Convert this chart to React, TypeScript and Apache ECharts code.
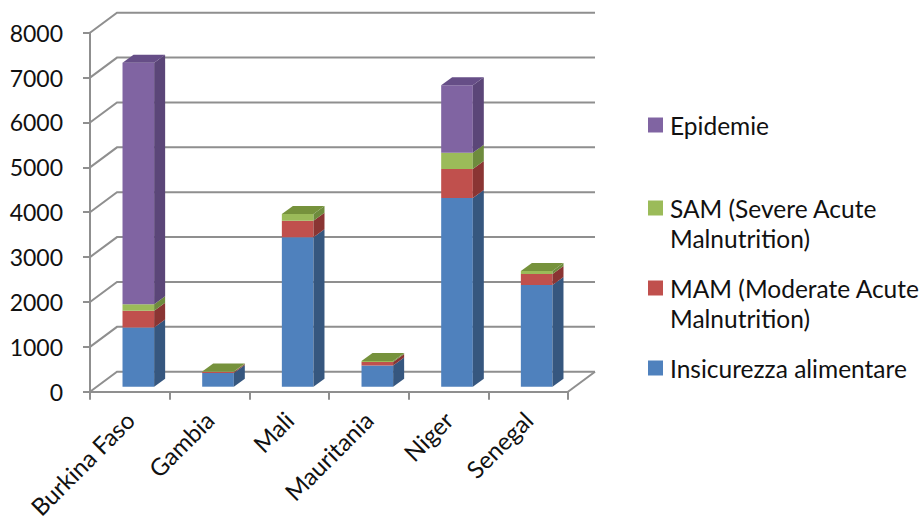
import React, { useEffect, useRef } from "react";
import * as echarts from "echarts";

// Countries on the horizontal axis
const countries = ["Burkina Faso", "Gambia", "Mali", "Mauritania", "Niger", "Senegal"];

// Stacked values per country (bottom to top)
const insicurezza = [1320, 305, 3330, 470, 4205, 2265];
const mam = [370, 25, 370, 80, 645, 245];
const sam = [150, 10, 150, 20, 365, 70];
const epidemie = [5380, 0, 0, 0, 1500, 0];

// Value axis ticks
const yTicks = [0, 1000, 2000, 3000, 4000, 5000, 6000, 7000, 8000];

const seriesNames = [
  "Insicurezza alimentare",
  "MAM (Moderate Acute Malnutrition)",
  "SAM (Severe Acute Malnutrition)",
  "Epidemie",
];
const seriesValues = [insicurezza, mam, sam, epidemie];

// front / side / top shading of each box
const palette = [
  { front: "#4F81BD", side: "#36577F", top: "#4471A8" },
  { front: "#C0504D", side: "#8A3533", top: "#A9443F" },
  { front: "#9BBB59", side: "#6E8B3D", top: "#76923C" },
  { front: "#8064A2", side: "#5B4678", top: "#664E87" },
];

// oblique projection offsets
const WALL_DX = 27;
const WALL_DY = -20;
const BAR_OX = 8.5;
const BAR_OY = -5;
const BAR_DX = 11;
const BAR_DY = -8;
const BAR_RATIO = 0.397;

const FONT = "Lato, 'Liberation Sans', sans-serif";
const GRID_COLOR = "#8f8f8f";

export default function App() {
  const ref = useRef<HTMLDivElement>(null);

  useEffect(() => {
    document.body.style.margin = "0";
    if (!ref.current) return;
    const chart = echarts.init(ref.current, null, { renderer: "svg" });

    // running totals to build stack bases
    const totals = countries.map((_, i) =>
      seriesValues.reduce((s, arr) => s + arr[i], 0)
    );
    const base = countries.map(() => 0);
    const stackData = seriesValues.map((arr) =>
      arr.map((v, i) => {
        const lo = base[i];
        const hi = lo + v;
        base[i] = hi;
        return [i, lo, hi, hi === totals[i] && v > 0 ? 1 : 0];
      })
    );

    const wallSeries = {
      type: "custom",
      name: "wall",
      silent: true,
      z: 1,
      data: yTicks.map((v) => [0, v]),
      encode: { x: 0, y: 1 },
      renderItem: (params: any, api: any) => {
        const cs = params.coordSys;
        const v = api.value(1);
        const y = api.coord([0, v])[1];
        const x0 = cs.x;
        const x1 = cs.x + cs.width;
        const style = { stroke: GRID_COLOR, lineWidth: 2, fill: "none" };
        const children: any[] = [
          {
            type: "polyline",
            shape: {
              points: [
                [x0, y],
                [x0 + WALL_DX, y + WALL_DY],
                [x1 + WALL_DX, y + WALL_DY],
              ],
            },
            style,
          },
        ];
        if (v === 0) {
          children.push({
            type: "line",
            shape: { x1: x1, y1: y, x2: x1 + WALL_DX, y2: y + WALL_DY },
            style,
          });
        }
        return { type: "group", children };
      },
    };

    const barSeries = seriesNames.map((name, si) => ({
      type: "custom",
      name,
      z: 3,
      data: stackData[si],
      encode: { x: 0, y: [1, 2] },
      renderItem: (params: any, api: any) => {
        const i = api.value(0);
        const lo = api.value(1);
        const hi = api.value(2);
        const isTop = api.value(3) === 1;
        if (hi - lo <= 0) return null;
        const pLo = api.coord([i, lo]);
        const pHi = api.coord([i, hi]);
        const bw = api.size([1, 0])[0] * BAR_RATIO;
        const cx = pLo[0] + BAR_OX;
        const l = cx - bw / 2;
        const r = cx + bw / 2;
        const yLo = pLo[1] + BAR_OY;
        const yHi = pHi[1] + BAR_OY;
        const c = palette[si];
        const children: any[] = [
          {
            type: "rect",
            shape: { x: l, y: yHi, width: bw, height: yLo - yHi },
            style: { fill: c.front },
          },
          {
            type: "polygon",
            shape: {
              points: [
                [r, yLo],
                [r, yHi],
                [r + BAR_DX, yHi + BAR_DY],
                [r + BAR_DX, yLo + BAR_DY],
              ],
            },
            style: { fill: c.side },
          },
        ];
        if (isTop) {
          children.push({
            type: "polygon",
            shape: {
              points: [
                [l, yHi],
                [r, yHi],
                [r + BAR_DX, yHi + BAR_DY],
                [l + BAR_DX, yHi + BAR_DY],
              ],
            },
            style: { fill: c.top },
          });
        }
        return { type: "group", children };
      },
    }));

    // legend entries, listed top to bottom
    const legendItems = [
      { color: palette[3].front, lines: ["Epidemie"], y: 125 },
      { color: palette[2].front, lines: ["SAM (Severe Acute", "Malnutrition)"], y: 208 },
      { color: palette[1].front, lines: ["MAM (Moderate Acute", "Malnutrition)"], y: 288 },
      { color: palette[0].front, lines: ["Insicurezza alimentare"], y: 368 },
    ];
    const legendGraphics: any[] = [];
    legendItems.forEach((it) => {
      legendGraphics.push({
        type: "rect",
        left: 648,
        top: it.y - 7.5,
        shape: { width: 15, height: 15 },
        style: { fill: it.color },
      });
      legendGraphics.push({
        type: "text",
        left: 670,
        top: it.y - 15,
        style: {
          text: it.lines.join("\n"),
          font: `24.5px ${FONT}`,
          lineHeight: 30,
          fill: "#111",
        },
      });
    });

    chart.setOption({
      animation: false,
      grid: { left: 90, right: 356, top: 32.7, bottom: 133.3 },
      xAxis: {
        type: "category",
        data: countries,
        boundaryGap: true,
        axisLine: { show: true, lineStyle: { color: GRID_COLOR, width: 2 } },
        axisTick: { show: true, length: 8, lineStyle: { color: GRID_COLOR, width: 2 } },
        axisLabel: {
          rotate: 45,
          margin: 24,
          interval: 0,
          fontFamily: FONT,
          fontSize: 24,
          color: "#111",
        },
        splitLine: { show: false },
      },
      yAxis: {
        type: "value",
        min: 0,
        max: 8000,
        interval: 1000,
        axisLine: { show: true, lineStyle: { color: GRID_COLOR, width: 2 } },
        axisTick: { show: true, length: 7, lineStyle: { color: GRID_COLOR, width: 2 } },
        axisLabel: {
          margin: 27,
          fontFamily: FONT,
          fontSize: 23,
          color: "#111",
          formatter: (v: number) => String(v),
        },
        splitLine: { show: false },
      },
      series: [wallSeries, ...barSeries],
      graphic: legendGraphics,
    });

    return () => chart.dispose();
  }, []);

  return <div ref={ref} style={{ width: 924, height: 525 }} />;
}
